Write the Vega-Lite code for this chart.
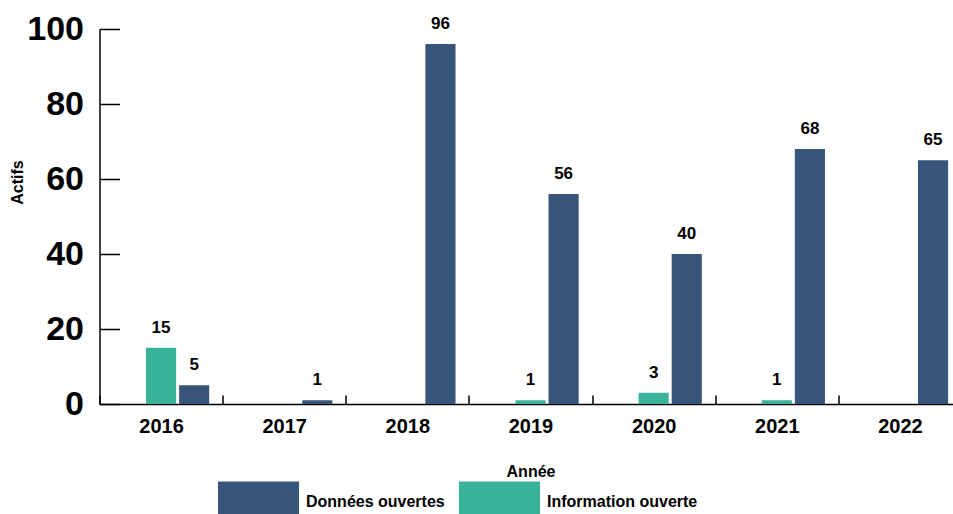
{
  "$schema": "https://vega.github.io/schema/vega-lite/v6.json",
  "width": 862,
  "height": 375,
  "autosize": {"type": "none"},
  "padding": {"left": 99.5, "top": 29, "right": 0, "bottom": 110},
  "config": {"view": {"stroke": null}, "font": "Liberation Sans"},
  "data": {
    "values": [
      {"year": "2016", "series": "Information ouverte", "value": 15},
      {"year": "2016", "series": "Données ouvertes", "value": 5},
      {"year": "2017", "series": "Données ouvertes", "value": 1},
      {"year": "2018", "series": "Données ouvertes", "value": 96},
      {"year": "2019", "series": "Information ouverte", "value": 1},
      {"year": "2019", "series": "Données ouvertes", "value": 56},
      {"year": "2020", "series": "Information ouverte", "value": 3},
      {"year": "2020", "series": "Données ouvertes", "value": 40},
      {"year": "2021", "series": "Information ouverte", "value": 1},
      {"year": "2021", "series": "Données ouvertes", "value": 68},
      {"year": "2022", "series": "Données ouvertes", "value": 65}
    ]
  },
  "encoding": {
    "x": {
      "field": "year",
      "type": "nominal",
      "scale": {"paddingInner": 0, "paddingOuter": 0},
      "axis": {
        "title": "Année",
        "labelAngle": 0,
        "tickBand": "extent",
        "tickSize": -9,
        "tickWidth": 1.5,
        "tickColor": "#000000",
        "domainColor": "#000000",
        "domainWidth": 1.5,
        "labelFontSize": 20,
        "labelFontWeight": "bold",
        "labelColor": "#000000",
        "labelPadding": 21,
        "titleFontSize": 16,
        "titleFontWeight": "bold",
        "titleColor": "#000000",
        "titleBaseline": "middle",
        "titleY": 67
      }
    },
    "xOffset": {
      "field": "series",
      "type": "nominal",
      "scale": {
        "domain": ["_pad", "Information ouverte", "Données ouvertes"],
        "paddingInner": 0.09,
        "paddingOuter": 0.405
      }
    },
    "y": {
      "field": "value",
      "type": "quantitative",
      "scale": {"domain": [0, 100]},
      "axis": {
        "title": "Actifs",
        "values": [0, 20, 40, 60, 80, 100],
        "grid": false,
        "tickSize": -20,
        "tickWidth": 1.5,
        "tickColor": "#000000",
        "domainColor": "#000000",
        "domainWidth": 1.5,
        "labelFontSize": 34,
        "labelFontWeight": "bold",
        "labelColor": "#000000",
        "labelPadding": 36,
        "titleFontSize": 16,
        "titleFontWeight": "bold",
        "titleColor": "#000000",
        "titleX": -82,
        "titleY": 153,
        "titleBaseline": "middle",
        "titleAlign": "center"
      }
    }
  },
  "layer": [
    {
      "mark": {"type": "bar"},
      "encoding": {
        "color": {
          "field": "series",
          "type": "nominal",
          "scale": {
            "domain": ["Données ouvertes", "Information ouverte"],
            "range": ["#375579", "#3AB39B"]
          },
          "legend": {
            "title": null,
            "orient": "none",
            "direction": "horizontal",
            "legendX": 118.5,
            "legendY": 432,
            "padding": 0,
            "symbolType": "M-1,-0.5H1V0.5H-1Z",
            "symbolSize": 6561,
            "symbolStrokeWidth": 0,
            "symbolOpacity": 1,
            "labelFontSize": 16,
            "labelFontWeight": "bold",
            "labelColor": "#000000",
            "labelOffset": 7,
            "labelLimit": 400,
            "columnPadding": 14
          }
        }
      }
    },
    {
      "mark": {
        "type": "text",
        "baseline": "middle",
        "dy": -20,
        "fontSize": 17,
        "fontWeight": "bold",
        "color": "#000000"
      },
      "encoding": {"text": {"field": "value", "type": "quantitative"}}
    }
  ]
}
